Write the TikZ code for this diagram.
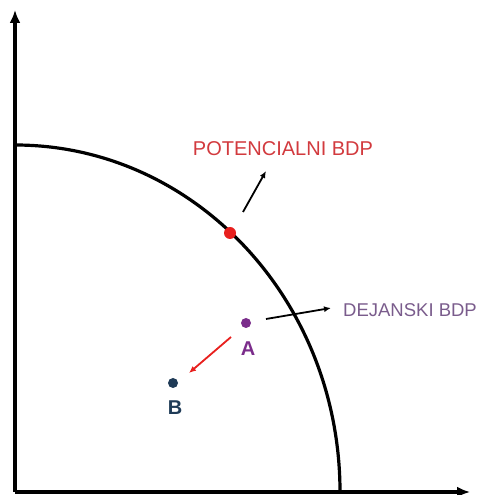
\documentclass[tikz,border=0pt]{standalone}
\usepackage{fontspec}
\setmainfont{Liberation Sans}
\usetikzlibrary{arrows.meta}
\definecolor{redpt}{HTML}{E8201E}
\definecolor{redtxt}{HTML}{D23A3E}
\definecolor{purp}{HTML}{7B2D8B}
\definecolor{purptxt}{HTML}{7A5C8C}
\definecolor{bluept}{HTML}{1F3B57}
\begin{document}
\begin{tikzpicture}[x=1pt,y=1pt,
  axis/.style={line width=3.2pt,-{Latex[length=13pt,width=11pt]}},
  curve/.style={line width=3.2pt},
  thinarrow/.style={line width=1.8pt,-{Latex[length=7pt,width=6pt]}},
  dot/.style={circle,inner sep=0pt,minimum size=#1},
  lbl/.style={font=\fontsize{18.5}{20}\selectfont}]
\useasboundingbox (0,0) rectangle (480,495);
\coordinate (O) at (15,3);
\coordinate (ytip) at (15,485);
\coordinate (xtip) at (470,3);
\draw[axis] (O) -- (ytip);
\draw[axis] (O) -- (xtip);
\draw[curve] (15,350) arc[start angle=90,end angle=0,x radius=325,y radius=347];
% potential point
\node[dot=12pt,fill=redpt] (P) at (230,262) {};
\coordinate (p1) at (243,283);
\coordinate (p2) at (266,324);
\draw[thinarrow,black] (p1) -- (p2);
\node[font=\fontsize{20}{22}\selectfont,text=redtxt] (PT) at (283,346) {POTENCIALNI BDP};
% point A
\node[dot=10pt,fill=purp] (A) at (246,172) {};
\node[font=\bfseries\fontsize{20}{22}\selectfont,text=purp] (Al) at (248,146) {A};
\coordinate (a1) at (266,176);
\coordinate (a2) at (331,187);
\draw[thinarrow,black] (a1) -- (a2);
\node[lbl,text=purptxt,anchor=west,inner sep=0pt] (DT) at (343,185) {DEJANSKI BDP};
% point B
\node[dot=10pt,fill=bluept] (B) at (173,112) {};
\node[font=\bfseries\fontsize{20}{22}\selectfont,text=bluept] (Bl) at (175,87) {B};
\coordinate (r1) at (231,158);
\coordinate (r2) at (189,122);
\draw[thinarrow,redpt] (r1) -- (r2);
\end{tikzpicture}
\end{document}
